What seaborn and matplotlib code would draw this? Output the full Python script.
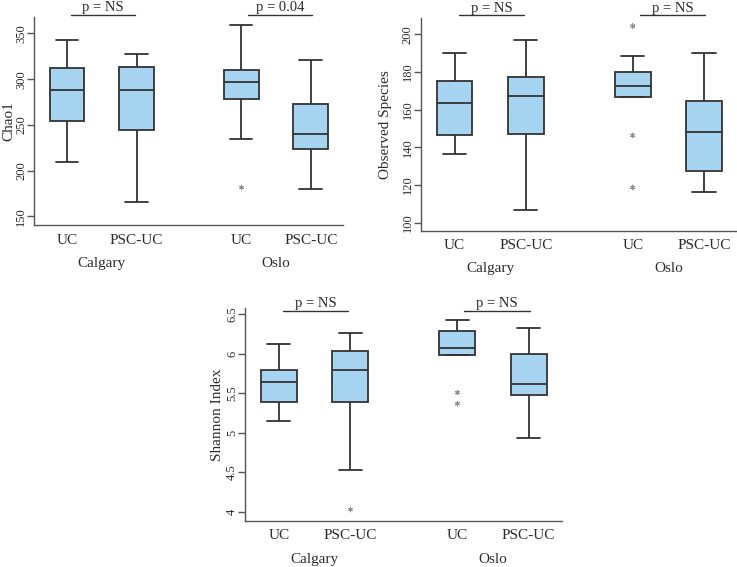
import pandas as pd
import matplotlib.pyplot as plt
import seaborn as sns

# Estilo
sns.set_style("ticks")
plt.rcParams["font.family"] = ["Liberation Serif", "DejaVu Serif"]

TEXT = "#2b2b2b"
SPINE = "#555555"
FILL = "#a6d4f1"
EDGE = "#333333"

# --- DADOS ---
sites = ["Calgary", "Calgary", "Oslo", "Oslo"]
groups = ["UC", "PSC-UC", "UC", "PSC-UC"]
site_order = ["Calgary", "Oslo"]
group_order = ["UC", "PSC-UC"]

# resumo de cinco números por caixa: [mín, Q1, mediana, Q3, máx]
chao1_stats = [[209, 254, 288, 312.5, 343],
               [166, 244, 288, 313.5, 328],
               [235, 278, 296.5, 310.5, 359],
               [180, 223, 240.5, 273, 321]]
chao1_out = [[], [], [181.5], []]
chao1_p = ["p = NS", "p = 0.04"]

obs_stats = [[136.3, 146.4, 163.5, 175.2, 189.9],
             [106.6, 147.1, 167, 177.3, 197],
             [166.8, 166.8, 172.7, 180, 188.3],
             [116.1, 127.3, 148, 164.5, 190.2]]
obs_out = [[], [], [204.4, 146.3, 118.6], []]
obs_p = ["p = NS", "p = NS"]

shan_stats = [[5.15, 5.39, 5.64, 5.80, 6.12],
              [4.53, 5.39, 5.79, 6.04, 6.26],
              [5.98, 5.98, 6.07, 6.29, 6.43],
              [4.93, 5.48, 5.62, 6.00, 6.33]]
shan_out = [[], [4.04], [5.51, 5.37], []]
shan_p = ["p = NS", "p = NS"]


def long_table(stats):
    rows = []
    for s, g, vals in zip(sites, groups, stats):
        for v in vals:
            rows.append({"site": s, "group": g, "value": v})
    return pd.DataFrame(rows)


def draw_panel(ax, stats, outliers, ylabel, ylim, yticks, yticklabels, pvals,
               label_x, line_y, text_y):
    df = long_table(stats)
    df_out = long_table(outliers)

    sns.boxplot(data=df, x="site", y="value", hue="group",
                order=site_order, hue_order=group_order,
                palette={g: FILL for g in group_order}, saturation=1,
                width=0.8, gap=0.5, whis=(0, 100),
                linecolor=EDGE, linewidth=1.3, legend=False, ax=ax)
    # alarga um pouco as barras das extremidades (caps)
    for ln in ax.lines:
        x = ln.get_xdata()
        y = ln.get_ydata()
        if len(x) == 2 and y[0] == y[1] and abs(x[1] - x[0]) < 0.15:
            c = (x[0] + x[1]) / 2
            h = abs(x[1] - x[0]) / 2 * 1.3
            ln.set_xdata([c - h, c + h])

    sns.stripplot(data=df_out, x="site", y="value", hue="group",
                  order=site_order, hue_order=group_order,
                  palette={g: "#909090" for g in group_order},
                  dodge=True, jitter=False, marker=(6, 2, 0), size=3.5,
                  linewidth=0.6, edgecolor="#909090", legend=False, ax=ax)

    ax.set_xlim(-0.39, 1.385)
    ax.set_ylim(*ylim)
    ax.set_xticks([-0.2, 0.2, 0.8, 1.2])
    ax.set_xticklabels(groups, fontsize=11, color=TEXT)
    ax.set_yticks(yticks)
    ax.set_yticklabels(yticklabels, fontsize=9, color=TEXT, rotation=90, va="center")
    ax.tick_params(axis="x", length=0, pad=6)
    ax.tick_params(axis="y", length=5, width=1, color=SPINE, pad=0)
    ax.set_xlabel("")
    ax.set_ylabel(ylabel, fontsize=11, color=TEXT)
    ax.yaxis.set_label_coords(label_x, 0.5)

    sns.despine(ax=ax)
    for side in ["left", "bottom"]:
        ax.spines[side].set_color(SPINE)
        ax.spines[side].set_linewidth(1)

    # rótulos dos centros
    for i, site in enumerate(site_order):
        ax.annotate(site, xy=(i, 0), xycoords=("data", "axes fraction"),
                    xytext=(0, -38), textcoords="offset pixels",
                    ha="center", va="center", fontsize=11, color=TEXT)

    # barras de significância
    trans = ax.get_xaxis_transform()
    for (x0, x1), txt in zip([(-0.175, 0.19), (0.84, 1.205)], pvals):
        ax.plot([x0, x1], [line_y, line_y], transform=trans, color=EDGE,
                lw=1, clip_on=False)
        ax.text((x0 + x1) / 2, text_y, txt, transform=trans, ha="center",
                va="baseline", fontsize=10.5, color=TEXT)


fig = plt.figure(figsize=(7.37, 5.67), dpi=100)
ax1 = fig.add_axes([0.0461, 0.6026, 0.4193, 0.3674])
ax2 = fig.add_axes([0.5708, 0.5926, 0.4292, 0.3751])
ax3 = fig.add_axes([0.3324, 0.0811, 0.4297, 0.3751])

draw_panel(ax1, chao1_stats, chao1_out, "Chao1", (140, 368),
           [150, 200, 250, 300, 350], ["150", "200", "250", "300", "350"], chao1_p,
           label_x=-0.06, line_y=1.0096, text_y=1.029)
draw_panel(ax2, obs_stats, obs_out, "Observed Species", (95.5, 208.5),
           [100, 120, 140, 160, 180, 200],
           ["100", "120", "140", "160", "180", "200"], obs_p,
           label_x=-0.092, line_y=1.0155, text_y=1.031)
draw_panel(ax3, shan_stats, shan_out, "Shannon Index", (3.886, 6.576),
           [4, 4.5, 5, 5.5, 6, 6.5], ["4", "4.5", "5", "5.5", "6", "6.5"], shan_p,
           label_x=-0.065, line_y=0.9887, text_y=1.0075)

plt.savefig("out.png", dpi=100)
plt.close()
print("Gráfico salvo!")
